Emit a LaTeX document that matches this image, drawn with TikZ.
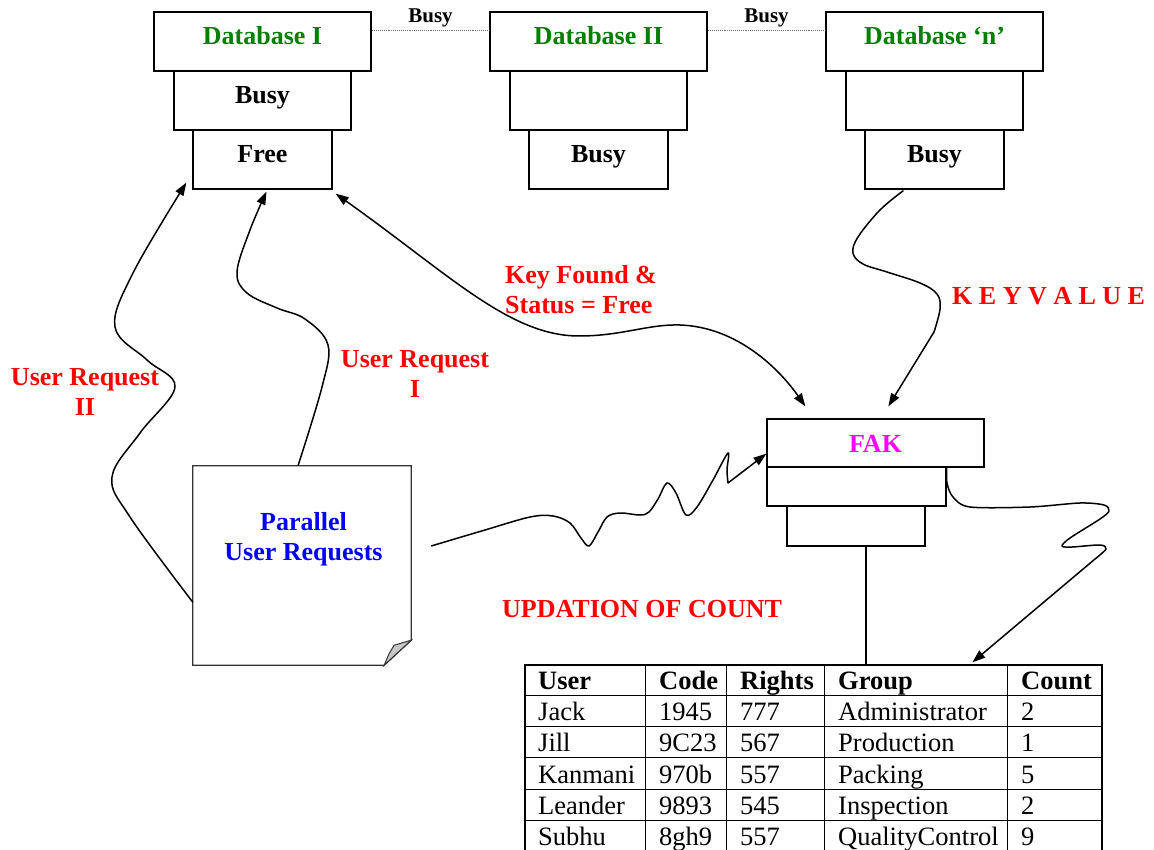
\documentclass[tikz,border=0pt]{standalone}
\usepackage{fontspec}
\setmainfont{Liberation Serif}
\usetikzlibrary{arrows.meta,calc}
\definecolor{dbgreen}{RGB}{0,128,0}
\definecolor{lblred}{RGB}{255,0,0}
\definecolor{lblblue}{RGB}{0,0,255}
\definecolor{fakpink}{RGB}{255,0,255}
\begin{document}
\begin{tikzpicture}[x=1pt,y=-1pt,
  box/.style={draw=black, line width=1.3pt, inner sep=0pt,
    font=\fontsize{26}{30}\selectfont\bfseries},
  dbtier/.style={box, text height=18pt, text depth=11pt},
  widetier/.style={dbtier, minimum width=217pt, minimum height=59pt},
  midtier/.style={dbtier, minimum width=177pt, minimum height=59pt},
  lowtier/.style={dbtier, minimum width=139pt, minimum height=59pt},
  smalllbl/.style={anchor=base, inner sep=0pt, font=\fontsize{21}{24}\selectfont\bfseries},
  redlbl/.style={inner sep=0pt, text=lblred, font=\fontsize{26}{30}\selectfont\bfseries},
  dotline/.style={densely dotted, line width=1.1pt, black!55},
  flow/.style={line width=1.5pt, black, line join=round},
  tip/.style={-{Triangle[length=13pt,width=9pt]}},
  bothtips/.style={{Triangle[length=13pt,width=9pt]}-{Triangle[length=13pt,width=9pt]}},
  grid/.style={line width=1.3pt, black},
  cell/.style={anchor=base west, inner sep=0pt, font=\fontsize{26.5}{30}\selectfont},
  headcell/.style={cell, font=\fontsize{26.5}{30}\selectfont\bfseries}]

\useasboundingbox (0,0) rectangle (1154,850);
\clip (0,0) rectangle (1154,850);

% ---- database stacks ----
\node[widetier, text=dbgreen] (db1top) at (262.5,41.5) {Database I};
\node[midtier] (db1mid) at (262.5,100.5) {Busy};
\node[lowtier] (db1bot) at (262.5,159.5) {Free};

\node[widetier, text=dbgreen] (db2top) at (598.5,41.5) {Database II};
\node[midtier] (db2mid) at (598.5,100.5) {};
\node[lowtier] (db2bot) at (598.5,159.5) {Busy};

\node[widetier, text=dbgreen] (dbntop) at (934.5,41.5) {Database ‘n’};
\node[midtier] (dbnmid) at (934.5,100.5) {};
\node[lowtier] (dbnbot) at (934.5,159.5) {Busy};

\draw[dotline] ($(db1top.north east)+(0,19)$) -- ($(db2top.north west)+(0,19)$);
\draw[dotline] ($(db2top.north east)+(0,19)$) -- ($(dbntop.north west)+(0,19)$);
\node[smalllbl] (busyA) at (430.5,23) {Busy};
\node[smalllbl] (busyB) at (766.5,23) {Busy};

% ---- FAK stack ----
\node[box, text=fakpink, text height=18pt, text depth=0pt,
  minimum width=217pt, minimum height=48pt] (fak1) at (875.5,443) {FAK};
\node[box, minimum width=179pt, minimum height=39pt] (fak2) at (856.5,486.5) {};
\node[box, minimum width=138pt, minimum height=40pt] (fak3) at (856,526) {};

% ---- note with folded corner ----
\node[inner sep=0pt, minimum width=218pt, minimum height=199pt] (note) at (302,565.5) {};
\draw[line width=1.3pt, black!80]
  (note.north west) -- (note.north east) -- ($(note.south east)+(0,-25)$)
  -- ($(note.south east)+(-27,0)$) -- (note.south west) -- cycle;
\filldraw[line width=1pt, black!80, fill=black!22]
  ($(note.south east)+(0,-25)$)
  .. controls ($(note.south east)+(-8,-23)$) .. ($(note.south east)+(-17,-20)$)
  .. controls ($(note.south east)+(-22,-12)$) .. ($(note.south east)+(-27,0)$) -- cycle;
\node[inner sep=0pt, align=center, text=lblblue,
  font=\fontsize{26}{30}\selectfont\bfseries] (notetext) at (303.5,539) {Parallel\\User Requests};

% ---- labels ----
\node[redlbl, align=center] (ur2) at (85,392) {User Request\\II};
\node[redlbl, align=center] (ur1) at (415,373.5) {User Request\\I};
\node[redlbl, align=left, anchor=west] (keyfound) at (505,290) {Key Found \&\\Status = Free};
\node[redlbl, anchor=base west] (kv) at (952,305) {K E Y V A L U E};
\node[redlbl, anchor=base west] (upd) at (502,617) {UPDATION OF COUNT};

% ---- table ----
\node[draw=black, line width=1.3pt, inner sep=0pt, minimum width=577pt,
  minimum height=187pt] (tbl) at (813.5,758.5) {};
\foreach \dx in {121,202,300,483}
  \draw[grid] ($(tbl.north west)+(\dx,0)$) -- ($(tbl.south west)+(\dx,0)$);
\foreach \dy in {31,62,93,125,156}
  \draw[grid] ($(tbl.north west)+(0,\dy)$) -- ($(tbl.north east)+(0,\dy)$);
\node[headcell] (hUser) at (538,689) {User};
\node[headcell] (hCode) at (659,689) {Code};
\node[headcell] (hRights) at (740,689) {Rights};
\node[headcell] (hGroup) at (838,689) {Group};
\node[headcell] (hCount) at (1021,689) {Count};
\foreach \r/\yb/\a/\b/\c/\d/\e in {
    1/720/Jack/1945/777/Administrator/2,
    2/751.5/Jill/9C23/567/Production/1,
    3/783/Kanmani/970b/557/Packing/5,
    4/814/Leander/9893/545/Inspection/2,
    5/845/Subhu/8gh9/557/QualityControl/9} {
  \node[cell] (user\r) at (538,\yb) {\a};
  \node[cell] (code\r) at (659,\yb) {\b};
  \node[cell] (rights\r) at (740,\yb) {\c};
  \node[cell] (group\r) at (838,\yb) {\d};
  \node[cell] (count\r) at (1021,\yb) {\e};
}

% ---- connector end points ----
\coordinate (ur2start) at ($(note.south west)+(0,-63)$);
\coordinate (ur2end) at ($(db1bot.south west)+(-6,-7)$);
\coordinate (ur1start) at ($(note.north)+(-4,0)$);
\coordinate (ur1end) at ($(db1bot.south)+(4,2)$);
\coordinate (kfstart) at ($(db1bot.south east)+(3,4)$);
\coordinate (kfend) at ($(fak1.north west)+(39,-12)$);
\coordinate (kvstart) at ($(dbnbot.south west)+(39,1)$);
\coordinate (kvend) at ($(fak1.north west)+(122,-12)$);
\coordinate (wstart) at ($(note.east)+(20,-19.5)$);
\coordinate (wend) at ($(fak1.south west)+(0,-14)$);
\coordinate (cstart) at (fak2.north east);
\coordinate (cend) at ($(tbl.north west)+(448,-2)$);
\coordinate (fakdrop) at ($(fak3.south)+(10,0)$);

% ---- connectors ----
\draw[flow, tip] plot[smooth, tension=0.6] coordinates {(ur2start) (130,517) (112,477)
  (140,433) (175,387) (147,360) (115,327) (133,273) (ur2end)};
\draw[flow, tip] plot[smooth, tension=0.6] coordinates {(ur1start) (322,387) (328,345)
  (305,319) (277,308) (247,293) (237,272) (250,230) (ur1end)};
\draw[flow, bothtips] (kfstart) .. controls (450,275) and (510,336) .. (579,336)
  .. controls (622,336) and (648,324) .. (680,325)
  .. controls (738,327) and (780,370) .. (kfend);
\draw[flow, tip] plot[smooth, tension=0.6] coordinates {(kvstart) (880,210) (858,237)
  (853,253) (863,264) (887,272) (920,283) (937,294) (940,309) (934,332)}
  -- (kvend);
\draw[flow, tip] plot[smooth, tension=0.55] coordinates {(wstart) (485,530) (530,517)
  (553,516) (570,523) (581,538) (589,546) (598,532) (607,517) (620,513) (640,515)
  (649,512) (658,499) (667,483) (676,493) (686,515) (697,507) (713,480) (728,453)
  (727,470) (728,483)} -- (wend);
\draw[flow, tip] plot[smooth, tension=0.5] coordinates {(cstart) (947,483) (953,497)
  (970,507) (1030,507) (1080,503) (1104,505) (1109,511) (1100,519) (1070,538)
  (1062,546) (1072,547) (1100,545) (1106,549) (1095,559)} -- (cend);
\draw[line width=1.3pt] (fakdrop) -- (fakdrop |- tbl.north);
\end{tikzpicture}
\end{document}
